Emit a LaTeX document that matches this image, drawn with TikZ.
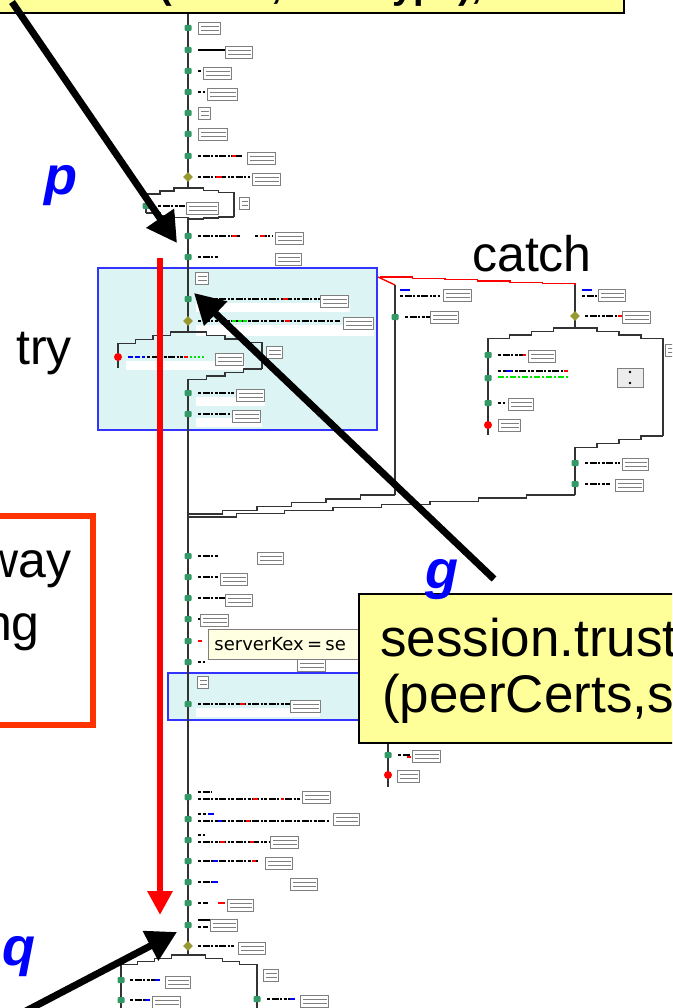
\documentclass[tikz,border=0pt]{standalone}
\usepackage{fontspec}
\setmainfont{Liberation Sans}
\newfontfamily\tipfont{DejaVu Sans}
\usetikzlibrary{arrows.meta,shapes.geometric}
\definecolor{callout}{HTML}{FFFF99}
\definecolor{tryfill}{HTML}{DDF4F4}
\definecolor{trydraw}{HTML}{3333FF}
\definecolor{gdotc}{HTML}{339966}
\definecolor{odotc}{HTML}{999933}
\definecolor{boxred}{HTML}{FF3300}
\definecolor{tipfill}{HTML}{FFFFE1}
\definecolor{flow}{HTML}{333333}
\definecolor{iconc}{HTML}{7F7F7F}
\definecolor{labblue}{HTML}{0000FF}
\tikzset{
  flowln/.style={draw=flow,line width=1.4pt},
  gdot/.style={fill=gdotc,draw=none,rectangle,rounded corners=1pt,minimum width=7pt,minimum height=6pt,inner sep=0pt},
  odot/.style={fill=odotc,draw=none,diamond,minimum size=10pt,inner sep=0pt,shape aspect=1},
  rdot/.style={fill=red,draw=none,circle,minimum size=8pt,inner sep=0pt},
  codeln/.style={line width=1.3pt,black,dash pattern=on 3pt off 1.5pt on 7pt off 1.5pt on 2pt off 1.5pt},
  bitred/.style={line width=1.5pt,red},
  bitblue/.style={line width=1.5pt,blue},
  bitgreen/.style={line width=1.5pt,green!90!black,dash pattern=on 4pt off 1.5pt},
  iconln/.style={draw=iconc,line width=0.9pt},
  trybox/.style={draw=trydraw,line width=1.2pt,fill=tryfill},
  bigarrow/.style={line width=7pt,black,-{Triangle[width=32pt,length=30pt]}},
  redarrow/.style={line width=6pt,red,-{Triangle[width=24pt,length=24pt]}},
  calloutbox/.style={fill=callout,draw=black,line width=1.5pt},
  biglab/.style={font=\fontsize{50}{57}\selectfont,inner sep=0pt},
  sesslab/.style={font=\fontsize{53}{58}\selectfont,inner sep=0pt},
  letterlab/.style={font=\fontsize{54}{60}\selectfont\bfseries\itshape,text=labblue,inner sep=0pt},
}
\newcommand\ib[3]{%
  \draw[iconln,fill=white] (#1,#2-6) rectangle (#1+#3,#2+6);
  \draw[iconln] (#1+3,#2-1.5) -- (#1+#3-1.5,#2-1.5) (#1+3,#2+2.5) -- (#1+#3-1.5,#2+2.5);}
\newcommand\cd[3]{\draw[codeln] (#1,#3) -- (#2,#3);}
\newcommand\stairs[5]{%
  \pgfmathsetmacro\sdx{(#3-#1)/#5}\pgfmathsetmacro\sdy{(#4-#2)/#5}%
  \draw[flowln] (#1,#2) \foreach \k in {1,...,#5}{ -- ++(\sdx,0) -- ++(0,\sdy)};}
\begin{document}
\begin{tikzpicture}[x=1pt,y=-1pt]
\useasboundingbox (0,0) rectangle (672,1008);
\begin{scope}
\clip (0,0) rectangle (672,1008);
\fill[white] (0,0) rectangle (672,1008);

% try boxes
\draw[trybox] (98,268) rectangle (377,430);
\draw[trybox] (168,673) rectangle (430,720);
% white strips
\fill[white] (196,303) rectangle (350,312);
\fill[white] (196,325) rectangle (374,336);
\fill[white] (126,361) rectangle (245,370);
\fill[white] (196,397) rectangle (265,406);
\fill[white] (196,418) rectangle (262,427);
\fill[white] (196,708) rectangle (320,717);

% main flow line
\draw[flowln] (188,13) -- (188,188);
\stairs{188}{188}{146}{197}{3}
\stairs{188}{188}{234}{195}{3}
\draw[flowln] (146,197) -- (146,213);
\draw[flowln] (234,195) -- (234,217);
\stairs{146}{213}{188}{220}{3}
\stairs{234}{217}{188}{220}{3}
\draw[flowln] (188,220) -- (188,332);
\stairs{188}{332}{118}{347}{4}
\stairs{188}{332}{262}{346}{4}
\draw[flowln] (118,347) -- (118,368);
\draw[flowln] (262,346) -- (262,369);
\stairs{262}{369}{188}{383}{4}
\draw[flowln] (188,383) -- (188,955);
\stairs{188}{955}{121}{968}{4}
\stairs{188}{955}{257}{968}{4}
\draw[flowln] (121,968) -- (121,1010);
\draw[flowln] (257,968) -- (257,1010);

% catch
\draw[red,line width=1.4pt] (378,277) -- (395,285);
\pgfmathsetmacro\sdx{(575-380)/6}
\draw[red,line width=1.4pt] (380,277) \foreach \k in {1,...,6}{ -- ++(\sdx,0) -- ++(0,1.33)};
\draw[flowln] (395,285) -- (395,495);
\draw[flowln] (575,285) -- (575,328);
\stairs{575}{328}{488}{342}{4}
\stairs{575}{328}{663}{342}{4}
\draw[flowln] (488,342) -- (488,435);
\draw[flowln] (663,342) -- (663,436);
\stairs{663}{436}{575}{451}{4}
\draw[flowln] (575,451) -- (575,495);
\stairs{575}{495}{188}{520}{8}
\stairs{395}{495}{188}{518}{6}
\draw[flowln] (388,742) -- (388,787);

% dots
\foreach \y [count=\i] in {28,50,71,92,113,134,156,236,257,299,393,414,556,577,598,619,641,662,704,797,819,840,861,882,903,925}
  \node[gdot] (m\i) at (188,\y) {};
\node[odot] (o1) at (188,177) {};
\node[odot] (o2) at (188,321) {};
\node[odot] (o3) at (188,946) {};
\node[gdot] (hx) at (146,206) {};
\node[rdot] (thr) at (118,357) {};
\node[gdot] (c1) at (395,317) {};
\node[odot] (c2) at (575,316) {};
\node[gdot] (c3) at (488,355) {};
\node[gdot] (c4) at (488,378) {};
\node[gdot] (c5) at (488,403) {};
\node[rdot] (c6) at (488,425) {};
\node[gdot] (c7) at (575,463) {};
\node[gdot] (c8) at (575,484) {};
\node[gdot] (s1) at (388,755) {};
\node[rdot] (s2) at (388,775) {};
\node[gdot] (b1) at (121,980) {};
\node[gdot] (b2) at (121,1000) {};
\node[gdot] (b3) at (257,999) {};

% code rows, top
\ib{198}{28}{22}
\draw[line width=1.3pt] (198,50) -- (225,50); \ib{225}{52}{27}
\cd{198}{202}{71} \ib{203}{73}{28}
\cd{198}{205}{92} \ib{207}{94}{30}
\ib{198}{113}{12}
\ib{198}{134}{29}
\cd{198}{242}{156} \draw[bitred] (232,156) -- (236,156); \ib{247}{158}{28}
\cd{198}{250}{177} \draw[bitred] (216,177) -- (222,177); \ib{252}{179}{28}
\cd{158}{185}{206} \ib{186}{208}{32}
\ib{239}{203}{10}
\cd{198}{240}{236} \draw[bitred] (232,236) -- (237,236); \cd{255}{272}{236} \draw[bitred] (260,236) -- (265,236); \ib{275}{238}{28}
\cd{198}{218}{257} \ib{275}{259}{26}
\ib{195}{278}{13}
\cd{198}{320}{299} \draw[bitred] (283,299) -- (288,299); \ib{320}{301}{28}
\cd{198}{340}{321} \draw[bitgreen] (232,321) -- (248,321); \draw[bitred] (285,321) -- (290,321); \ib{343}{323}{30}
\draw[bitblue,dash pattern=on 5pt off 2pt] (128,357) -- (145,357); \cd{147}{184}{357} \draw[bitred] (184,357) -- (188,357); \draw[bitgreen,dash pattern=on 2pt off 2pt] (190,357) -- (205,357); \ib{215}{359}{28}
\ib{266}{352}{16}
\cd{198}{235}{393} \ib{236}{395}{28}
\cd{198}{230}{414} \ib{232}{416}{28}

% catch rows
\draw[bitblue] (400,290) -- (410,290); \cd{400}{440}{296} \ib{443}{295}{28}
\cd{405}{430}{317} \ib{430}{317}{28}
\draw[bitblue] (582,290) -- (592,290); \cd{582}{598}{296} \ib{598}{295}{27}
\cd{585}{620}{316} \draw[bitred] (618,316) -- (622,316); \ib{622}{317}{28}
\cd{498}{525}{355} \draw[bitred] (523,355) -- (526,355); \ib{528}{356}{27}
\cd{498}{568}{371} \draw[bitblue] (506,371) -- (512,371); \draw[bitred] (564,371) -- (568,371);
\draw[bitgreen,dash pattern=on 6pt off 2pt on 2pt off 2pt] (498,377) -- (568,377);
\cd{498}{505}{403} \ib{508}{404}{25}
\ib{498}{425}{22}
\draw[iconln,fill=gray!15] (617,368) rectangle (643,387);
\fill (630,372) circle (1.3pt) (630,383) circle (1.3pt);
\ib{665}{350}{14}
\cd{585}{620}{463} \ib{622}{464}{26}
\cd{585}{610}{484} \ib{615}{485}{28}

% rows after merge
\cd{198}{218}{556} \ib{257}{558}{26}
\cd{198}{218}{577} \ib{220}{579}{27}
\cd{198}{225}{598} \ib{225}{600}{27}
\cd{198}{201}{619} \ib{200}{620}{28}
\draw[bitred] (198,641) -- (202,641);
\cd{198}{205}{662} \ib{297}{665}{28}
\ib{197}{682}{11}
\cd{198}{290}{704} \draw[bitred] (240,704) -- (245,704); \ib{290}{706}{30}
\cd{398}{410}{755} \draw[bitred] (407,757) -- (411,757); \ib{412}{756}{28}
\ib{397}{776}{22}

% bottom rows
\cd{198}{212}{792} \cd{198}{300}{799} \draw[bitred] (253,799) -- (258,799); \draw[bitred] (281,799) -- (284,799); \ib{302}{797}{28}
\cd{198}{206}{814} \draw[bitblue] (208,814) -- (214,814); \cd{198}{330}{821} \draw[bitblue] (218,821) -- (222,821); \draw[bitred] (246,821) -- (250,821); \ib{333}{819}{26}
\cd{198}{205}{835} \cd{198}{270}{842} \draw[bitred] (220,842) -- (225,842); \draw[bitred] (250,842) -- (254,842); \ib{270}{842}{28}
\cd{198}{258}{861} \draw[bitblue] (213,861) -- (218,861); \draw[bitred] (252,861) -- (256,861); \ib{265}{863}{27}
\cd{198}{212}{882} \draw[bitblue] (212,882) -- (218,882); \ib{290}{884}{27}
\cd{198}{208}{903} \draw[bitred] (218,903) -- (225,903); \ib{227}{905}{26}
\draw[line width=1.3pt] (198,920) -- (210,920); \cd{198}{208}{927} \ib{210}{925}{27}
\cd{198}{235}{946} \ib{238}{948}{27}
\cd{130}{155}{980} \draw[bitblue] (155,980) -- (160,980); \ib{165}{982}{25}
\cd{130}{145}{1000} \draw[bitblue] (145,1000) -- (150,1000); \ib{152}{1002}{28}
\ib{263}{975}{15}
\cd{267}{290}{999} \draw[bitblue] (290,999) -- (295,999); \ib{300}{1001}{28}

% tooltip
\node[draw=iconc,fill=tipfill,line width=0.8pt,minimum height=30pt,anchor=west,inner sep=0pt,text width=170pt,align=left] (tip) at (208,644) {\hspace{6pt}\tipfont\fontsize{18}{20}\selectfont serverKex = se};

% red arrow
\coordinate (rs) at (160,258);
\coordinate (re) at (160,915);
\draw[redarrow] (rs) -- (re);

% left orange box
\draw[boxred,line width=6pt] (-10,516) rectangle (93,725);
\node[biglab,anchor=base east] (way) at (72,577) {way};
\node[biglab,anchor=base east] (ng) at (40,640) {ng};

% callouts
\draw[calloutbox] (-10,-60) rectangle (624,13);
\node[font=\fontsize{38}{44}\selectfont\bfseries,inner sep=0pt,anchor=base west] (toptext) at (159,-1) {(chain, authType);};
\node[calloutbox,anchor=north west,minimum width=330pt,minimum height=149pt] (sess) at (358,593) {};
\node[sesslab,anchor=base west] (l1) at (380,656) {session.trust};
\node[sesslab,anchor=base west] (l2) at (382,712) {(peerCerts,s};

% labels
\node[biglab,anchor=base] (catch) at (532,271) {catch};
\node[biglab,anchor=base west] (try) at (16,364) {try};
\node[letterlab,anchor=base west] (pl) at (44,195) {p};
\node[letterlab,anchor=base west] (gl) at (425,588) {g};
\node[letterlab,anchor=base west] (ql) at (2,965) {q};

% black arrows
\coordinate (ps) at (12,2);
\coordinate (pt) at (177,243);
\draw[bigarrow] (ps) -- (pt);
\coordinate (gs) at (494,579);
\coordinate (gt) at (194,293);
\draw[bigarrow] (gs) -- (gt);
\coordinate (qs) at (24,1012);
\coordinate (qt) at (177,932);
\draw[bigarrow] (qs) -- (qt);
\end{scope}
\end{tikzpicture}
\end{document}
